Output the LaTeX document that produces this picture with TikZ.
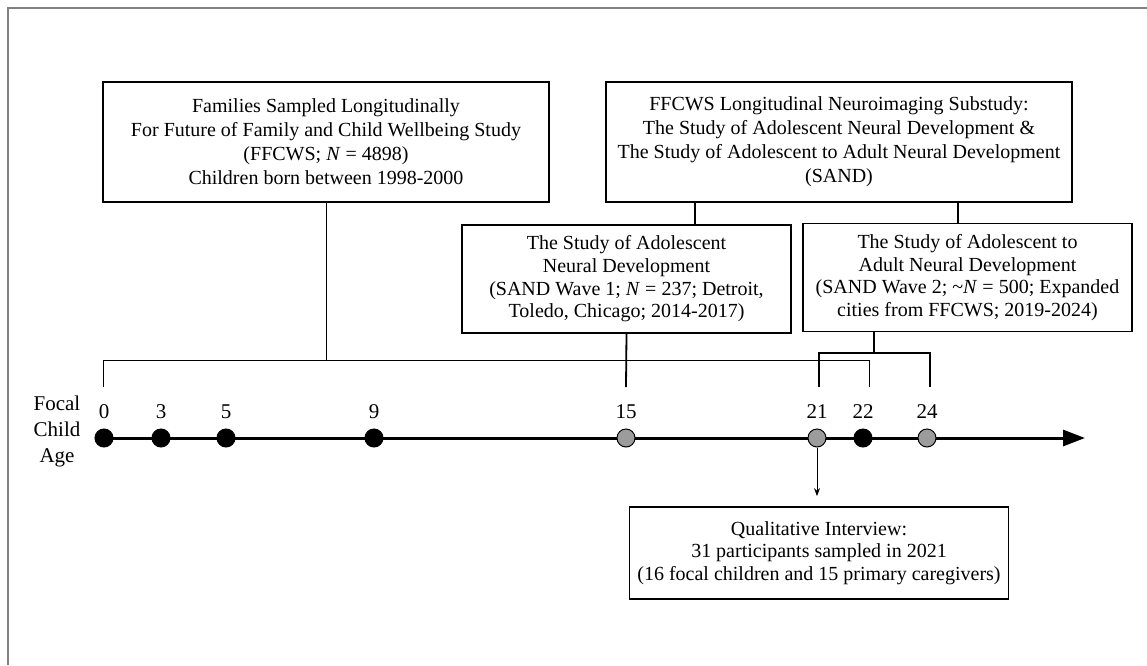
\documentclass[tikz,border=0pt]{standalone}
\usepackage{fontspec}
\setmainfont{Liberation Serif}
\usetikzlibrary{arrows.meta,positioning}
\definecolor{framegrey}{HTML}{808080}
\definecolor{dotgrey}{HTML}{9C9C9C}
\tikzset{
  studybox/.style={draw, line width=0.9pt, align=center, inner sep=4pt, minimum height=60pt, font=\fontsize{10}{12}\selectfont},
  wavebox/.style={studybox, minimum width=164.5pt, minimum height=54pt, font=\fontsize{10}{11.3}\selectfont},
  blackdot/.style={circle, draw=black, fill=black, line width=0.5pt, minimum size=9pt, inner sep=0pt},
  greydot/.style={blackdot, fill=dotgrey},
  agetext/.style={font=\fontsize{10.5}{13}\selectfont, inner sep=0pt},
  link/.style={line width=0.9pt},
  thinlink/.style={line width=0.5pt},
  timeline/.style={line width=1.5pt, -{Triangle[length=11pt, width=8pt]}},
  downarrow/.style={line width=0.5pt, -{Stealth[length=4pt, width=3pt]}}
}

\begin{document}
\begin{tikzpicture}[x=0.5pt, y=-0.5pt]
  \useasboundingbox (0,0) rectangle (1147,665);
  \draw[framegrey, line width=0.8pt] (1147,8) -- (8,8) -- (8,665);

  % study boxes
  \node[studybox, minimum width=223pt] (families) at (326,142)
    {Families Sampled Longitudinally\\For Future of Family and Child Wellbeing Study\\(FFCWS; \textit{N} = 4898)\\Children born between 1998-2000};
  \node[studybox, minimum width=233pt] (substudy) at (839,142)
    {FFCWS Longitudinal Neuroimaging Substudy:\\The Study of Adolescent Neural Development \&\\The Study of Adolescent to Adult Neural Development\\(SAND)};
  \node[wavebox] (wave1) at (626.5,279)
    {The Study of Adolescent\\Neural Development\\(SAND Wave 1; \textit{N} = 237; Detroit,\\Toledo, Chicago; 2014-2017)};
  \node[wavebox] (wave2) at (967.5,277.5)
    {The Study of Adolescent to\\Adult Neural Development\\(SAND Wave 2; \textasciitilde\textit{N} = 500; Expanded\\cities from FFCWS; 2019-2024)};
  \node[wavebox, minimum width=185pt, minimum height=46pt] (interview) at (819,553)
    {Qualitative Interview:\\31 participants sampled in 2021\\(16 focal children and 15 primary caregivers)};

  % timeline
  \node[agetext, align=center] (focal) at (57,431) {Focal\\Child\\Age};
  \coordinate (axstart) at (104,438);
  \coordinate (axend) at (1085,438);
  \draw[timeline] (axstart) -- (axend);
  \foreach \age/\x/\kind in {0/104/blackdot, 3/161/blackdot, 5/226/blackdot, 9/374/blackdot,
                             15/626/greydot, 21/817/greydot, 22/863/blackdot, 24/927/greydot} {
    \node[\kind] (a\age) at (\x,438) {};
    \node[agetext] (l\age) at (\x,412) {\age};
  }

  % connectors
  \coordinate (bar) at (0,360);
  \coordinate (bracket) at (0,353);
  \coordinate (stub) at (0,387);
  \coordinate (j1) at (695,0);
  \coordinate (j2) at (958,0);
  \coordinate (j3) at (874,0);
  \draw[link] (substudy.south -| j1) -- (wave1.north -| j1);
  \draw[link] (substudy.south -| j2) -- (wave2.north -| j2);
  \draw[thinlink] (families.south) -- (families.south |- bar);
  \draw[thinlink] ([xshift=-0.5pt]a0 |- stub) -- ([xshift=-0.5pt]a0 |- bar)
    -- ([xshift=3pt]a22 |- bar) -- ([xshift=3pt]a22 |- stub);
  \draw[link] (wave1.south) -- (a15 |- stub);
  \draw[link] (wave2.south -| j3) -- (j3 |- bracket);
  \draw[link] ([xshift=1pt]a21 |- stub) -- ([xshift=1pt]a21 |- bracket)
    -- ([xshift=1.5pt]a24 |- bracket) -- ([xshift=1.5pt]a24 |- stub);
  \draw[downarrow] (a21.south) -- ([yshift=5pt]interview.north -| a21);
\end{tikzpicture}
\end{document}
